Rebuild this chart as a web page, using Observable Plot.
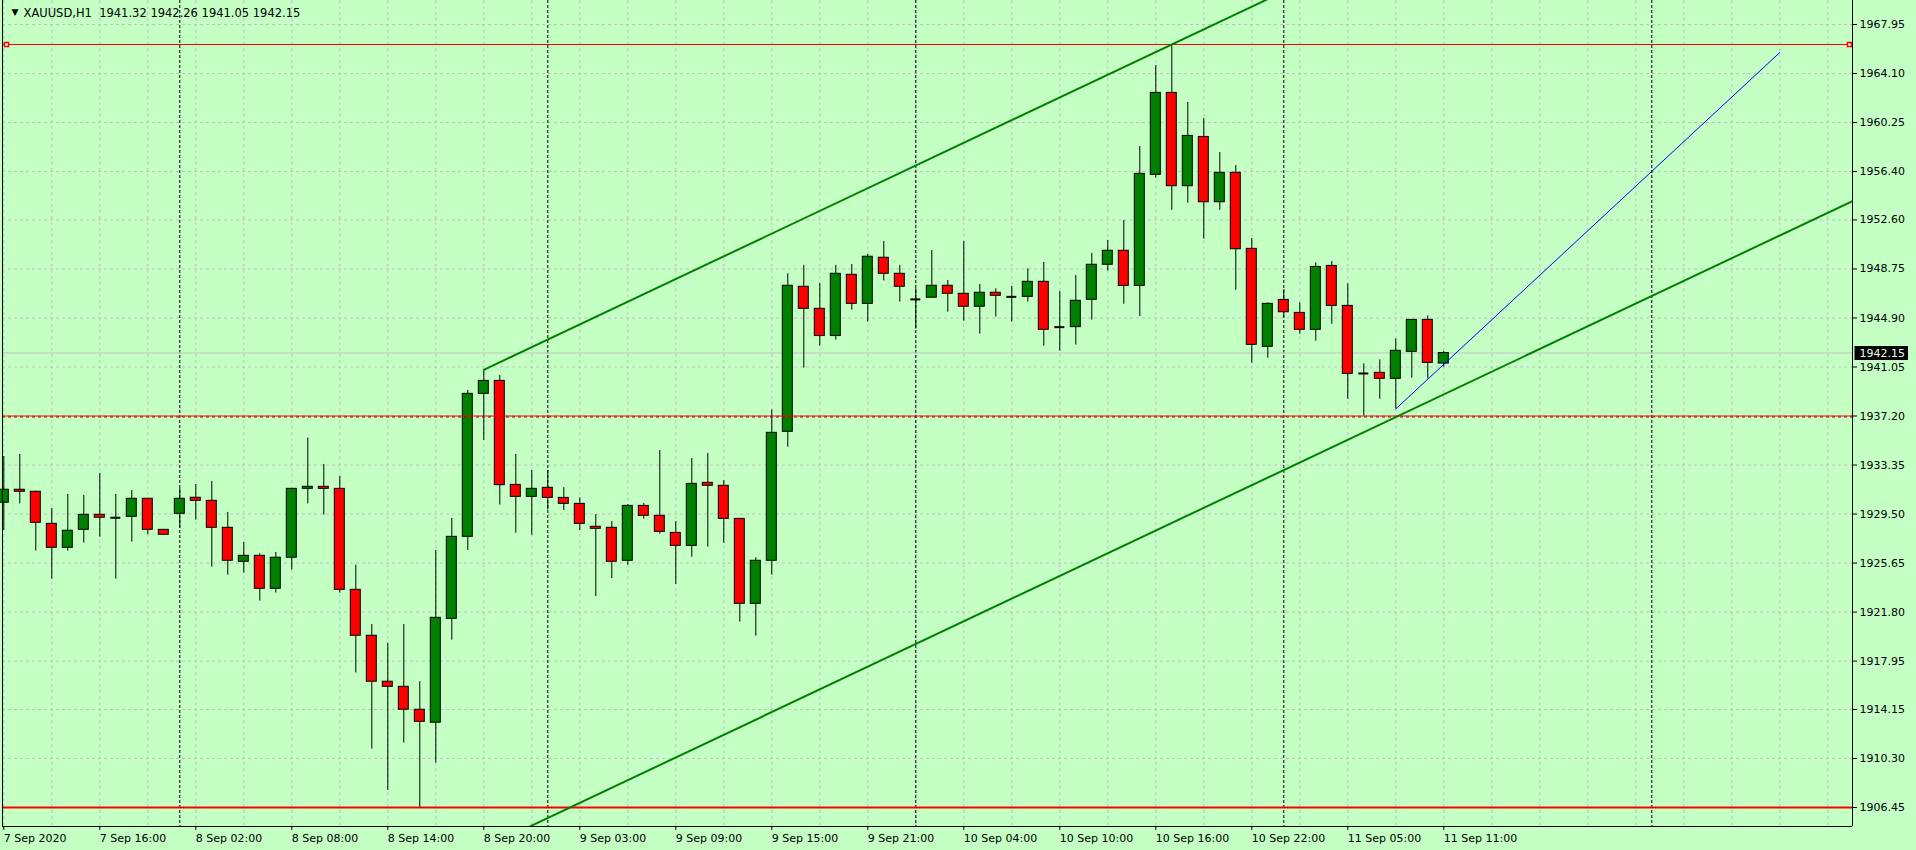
<!DOCTYPE html>
<html><head><meta charset="utf-8">
<script src="https://cdn.jsdelivr.net/npm/d3@7"></script>
<script src="https://cdn.jsdelivr.net/npm/@observablehq/plot@0.6"></script>
<style>
html,body{margin:0;padding:0;background:#c4ffc4;overflow:hidden;}
#chart svg{display:block;}
</style></head><body><div id="chart"></div>
<script>
// ---- data ----
const symbolName = "XAUUSD,H1";
const lastBar = [1941.32, 1942.26, 1941.05, 1942.15];

const openPrices = [1930.39,1931.41,1931.25,1928.73,1926.85,1928.26,1929.44,1929.21,1929.28,1930.70,
1928.26,1929.52,1930.78,1930.54,1928.42,1925.75,1926.22,1923.63,1926.07,1931.48,
1931.64,1931.48,1923.55,1919.94,1916.33,1915.93,1914.13,1913.11,1921.27,1927.71,
1938.94,1939.96,1931.79,1930.85,1931.56,1930.77,1930.30,1928.50,1928.42,1925.83,
1930.14,1929.36,1928.02,1927.00,1931.95,1931.72,1929.12,1922.45,1925.83,1935.96,
1947.35,1945.62,1943.48,1948.29,1946.01,1949.63,1948.37,1946.36,1946.49,1947.43,
1946.80,1945.78,1946.88,1946.56,1946.56,1947.74,1944.18,1944.18,1946.33,1949.08,
1950.18,1947.42,1956.14,1962.58,1955.25,1959.12,1953.99,1956.30,1950.33,1942.63,
1946.32,1945.30,1943.97,1948.99,1945.85,1940.54,1940.59,1940.12,1942.24,1944.75,1941.32];
const highPrices = [1934.02,1934.18,1931.30,1929.94,1931.04,1930.96,1932.69,1931.04,1931.35,1930.70,
1928.26,1931.51,1931.82,1932.06,1929.63,1927.27,1926.38,1926.48,1931.48,1935.47,
1933.40,1932.45,1925.49,1920.83,1919.34,1920.83,1916.33,1926.64,1929.15,1939.20,
1940.83,1940.38,1934.18,1932.92,1932.92,1931.58,1930.77,1929.46,1928.91,1930.25,
1930.33,1934.49,1928.91,1933.86,1934.26,1932.13,1929.12,1926.06,1937.68,1948.37,
1949.03,1947.61,1949.03,1949.10,1949.89,1950.91,1949.03,1947.19,1950.20,1947.85,
1950.91,1947.53,1947.19,1947.38,1948.76,1949.26,1946.98,1948.24,1949.97,1950.99,
1952.55,1958.37,1964.73,1966.38,1961.82,1960.56,1957.89,1956.87,1951.14,1946.09,
1947.11,1946.09,1949.23,1949.33,1947.58,1941.29,1941.61,1943.26,1944.75,1945.06,1942.26];
const lowPrices = [1928.21,1930.30,1926.59,1924.39,1926.59,1927.22,1927.69,1924.39,1927.30,1927.87,
1927.87,1928.39,1929.02,1925.33,1924.70,1924.86,1922.66,1923.29,1925.10,1930.30,
1929.42,1923.29,1917.01,1911.04,1907.79,1911.51,1906.45,1909.94,1919.60,1926.64,
1935.28,1930.20,1928.00,1927.84,1929.83,1929.78,1928.21,1923.02,1924.44,1925.48,
1929.10,1927.92,1923.97,1926.11,1926.90,1927.21,1921.01,1919.91,1924.70,1934.75,
1940.96,1942.69,1943.16,1945.52,1944.58,1947.80,1946.15,1944.03,1946.49,1945.36,
1944.65,1943.63,1944.97,1944.58,1946.15,1942.69,1942.30,1942.77,1944.73,1948.58,
1945.98,1945.01,1955.88,1953.36,1953.91,1951.09,1953.36,1947.08,1941.35,1941.74,
1944.93,1943.63,1943.08,1944.41,1938.52,1937.20,1938.52,1937.76,1940.17,1940.12,1941.05];
const closePrices = [1931.41,1931.25,1928.81,1926.85,1928.19,1929.44,1929.21,1929.21,1930.70,1928.26,
1927.87,1930.70,1930.54,1928.42,1925.83,1926.22,1923.63,1926.07,1931.48,1931.64,
1931.48,1923.55,1919.94,1916.33,1915.93,1914.13,1913.18,1921.35,1927.71,1938.94,
1939.96,1931.77,1930.85,1931.48,1930.77,1930.30,1928.73,1928.34,1925.75,1930.14,
1929.36,1928.10,1927.00,1931.87,1931.72,1929.12,1922.45,1925.83,1935.88,1947.43,
1945.62,1943.48,1948.37,1946.01,1949.71,1948.37,1947.35,1946.36,1947.43,1946.80,
1945.78,1946.88,1946.64,1946.56,1947.74,1943.97,1944.18,1946.25,1949.08,1950.18,
1947.42,1956.22,1962.58,1955.25,1959.20,1953.99,1956.30,1950.30,1942.79,1946.01,
1945.35,1943.97,1948.91,1945.85,1940.51,1940.54,1940.12,1942.32,1944.75,1941.37,1942.15];

const xTickIndex = [0,6,12,18,24,30,36,42,48,54,60,66,72,78,84,90];
const xTickLabels = ["7 Sep 2020","7 Sep 16:00","8 Sep 02:00","8 Sep 08:00","8 Sep 14:00","8 Sep 20:00",
"9 Sep 03:00","9 Sep 09:00","9 Sep 15:00","9 Sep 21:00","10 Sep 04:00","10 Sep 10:00",
"10 Sep 16:00","10 Sep 22:00","11 Sep 05:00","11 Sep 11:00"];
const yTickValues = [1967.95,1964.10,1960.25,1956.40,1952.60,1948.75,1944.90,1941.05,1937.20,
1933.35,1929.50,1925.65,1921.80,1917.95,1914.15,1910.30,1906.45];
const gridBarIndex = d3.range(0, 115, 3);
const daySeparators = [11, 34, 57, 80, 103];

const levelTop = 1966.38;
const levelMid = 1937.20;
const levelLow = 1906.45;
const bidPrice = 1942.15;

const channelAnchors = [{i: 30, price: 1940.83}, {i: 73, price: 1966.38}];
const channelWidth = 37.58;
const channelEnd = 116;
const blueLine = [{i: 87, price: 1937.76}, {i: 111, price: 1965.75}];

// ---- derived ----
const candles = openPrices.map((o, i) => ({i, open: o, high: highPrices[i], low: lowPrices[i], close: closePrices[i]}));
const bodies = candles.filter(d => d.open !== d.close);
const dojis = candles.filter(d => d.open === d.close);
const labelMap = new Map(xTickIndex.map((t, k) => [t, xTickLabels[k]]));
const slope = (channelAnchors[1].price - channelAnchors[0].price) / (channelAnchors[1].i - channelAnchors[0].i);
const upperLine = [channelAnchors[0], {i: channelEnd, price: channelAnchors[0].price + slope * (channelEnd - channelAnchors[0].i)}];
const lowerLine = upperLine.map(d => ({i: d.i, price: d.price - channelWidth}));
const header = `${symbolName}\u00a0\u00a0${lastBar.map(v => v.toFixed(2)).join(" ")}`;

const HW = 0.3125; // half body width in bar units
const GREEN = "#008000", RED = "#ff0000";

const plot = Plot.plot({
  width: 1916, height: 850,
  marginLeft: 2, marginRight: 64, marginTop: 0, marginBottom: 24,
  style: {background: "#c4ffc4", color: "black", fontFamily: "'DejaVu Sans', sans-serif", fontSize: "11px", overflow: "visible"},
  x: {domain: [-0.08125, 115.54375], label: null},
  y: {domain: [1904.96, 1969.835], label: null},
  color: {type: "identity"},
  marks: [
    Plot.gridY(yTickValues, {stroke: "#c0c0c0", strokeOpacity: 1, strokeDasharray: "3,3"}),
    Plot.gridX(gridBarIndex, {stroke: "#c0c0c0", strokeOpacity: 1, strokeDasharray: "3,3"}),
    Plot.ruleX(daySeparators, {stroke: "black", strokeDasharray: "3,2"}),
    Plot.ruleY([bidPrice], {stroke: "#c0c0c0"}),
    // candles
    Plot.ruleX(candles, {x: "i", y1: "low", y2: "high", stroke: "black"}),
    Plot.rect(bodies, {x1: d => d.i - HW, x2: d => d.i + HW, y1: "open", y2: "close",
      fill: d => d.close > d.open ? GREEN : RED, stroke: "black"}),
    Plot.ruleY(dojis, {y: "close", x1: d => d.i - HW, x2: d => d.i + HW, stroke: "black", strokeWidth: 2}),
    // levels
    Plot.ruleY([levelTop], {stroke: RED}),
    Plot.ruleY([levelMid], {stroke: RED, strokeWidth: 1}),
    Plot.ruleY([levelMid], {stroke: "#b00000", strokeDasharray: "3,3", dy: 1}),
    Plot.ruleY([levelLow], {stroke: RED, strokeWidth: 2}),
    Plot.dot([levelTop], {y: d => d, frameAnchor: "left", dx: 4, symbol: "square", r: 2.3, stroke: RED, fill: "white"}),
    Plot.dot([levelTop], {y: d => d, frameAnchor: "right", dx: -3, symbol: "square", r: 2.3, stroke: RED, fill: "white"}),
    // channel + blue trend
    Plot.line(upperLine, {x: "i", y: "price", stroke: GREEN, strokeWidth: 2, clip: true}),
    Plot.line(lowerLine, {x: "i", y: "price", stroke: GREEN, strokeWidth: 2, clip: true}),
    Plot.line(blueLine, {x: "i", y: "price", stroke: "#0000ff", strokeWidth: 1, clip: true}),
    // frame
    Plot.ruleX([-0.08125, 115.54375], {stroke: "black"}),
    Plot.ruleY([1904.96], {stroke: "black"}),
    // axes
    Plot.axisY(yTickValues, {anchor: "right", label: null, tickFormat: d => d.toFixed(2), tickSize: 4, tickPadding: 3, fontSize: 11, fill: "black", stroke: "black"}),
    Plot.axisX(xTickIndex, {anchor: "bottom", label: null, tickFormat: d => labelMap.get(d), tickSize: 4, tickPadding: 4, textAnchor: "start", dx: 0, fontSize: 11, fill: "black", stroke: "black"}),
    // header
    Plot.text(["\u25BC"], {frameAnchor: "top-left", dx: 9, dy: 12, lineAnchor: "middle", fontSize: 9, fill: "black"}),
    Plot.text([header], {frameAnchor: "top-left", dx: 21, dy: 13, textAnchor: "start", lineAnchor: "middle", fontSize: 11.5, fill: "black"}),
    // bid label
    Plot.text([bidPrice], {y: d => d, frameAnchor: "right", dx: 7, textAnchor: "start", text: d => d.toFixed(2), fill: "#e8ffe8", fontSize: 11, className: "bidlabel"})
  ]
});
document.getElementById("chart").append(plot);
// black box behind the bid label
const bidText = plot.querySelector(".bidlabel text");
if (bidText) {
  const bb = bidText.getBBox();
  const g = bidText.parentNode;
  const r = document.createElementNS("http://www.w3.org/2000/svg", "rect");
  r.setAttribute("x", bb.x - 5); r.setAttribute("y", bb.y - 0.5);
  r.setAttribute("width", bb.width + 8); r.setAttribute("height", bb.height + 1);
  r.setAttribute("fill", "black");
  const tf = bidText.getAttribute("transform");
  if (tf) r.setAttribute("transform", tf);
  g.insertBefore(r, bidText);
}
</script></body></html>
